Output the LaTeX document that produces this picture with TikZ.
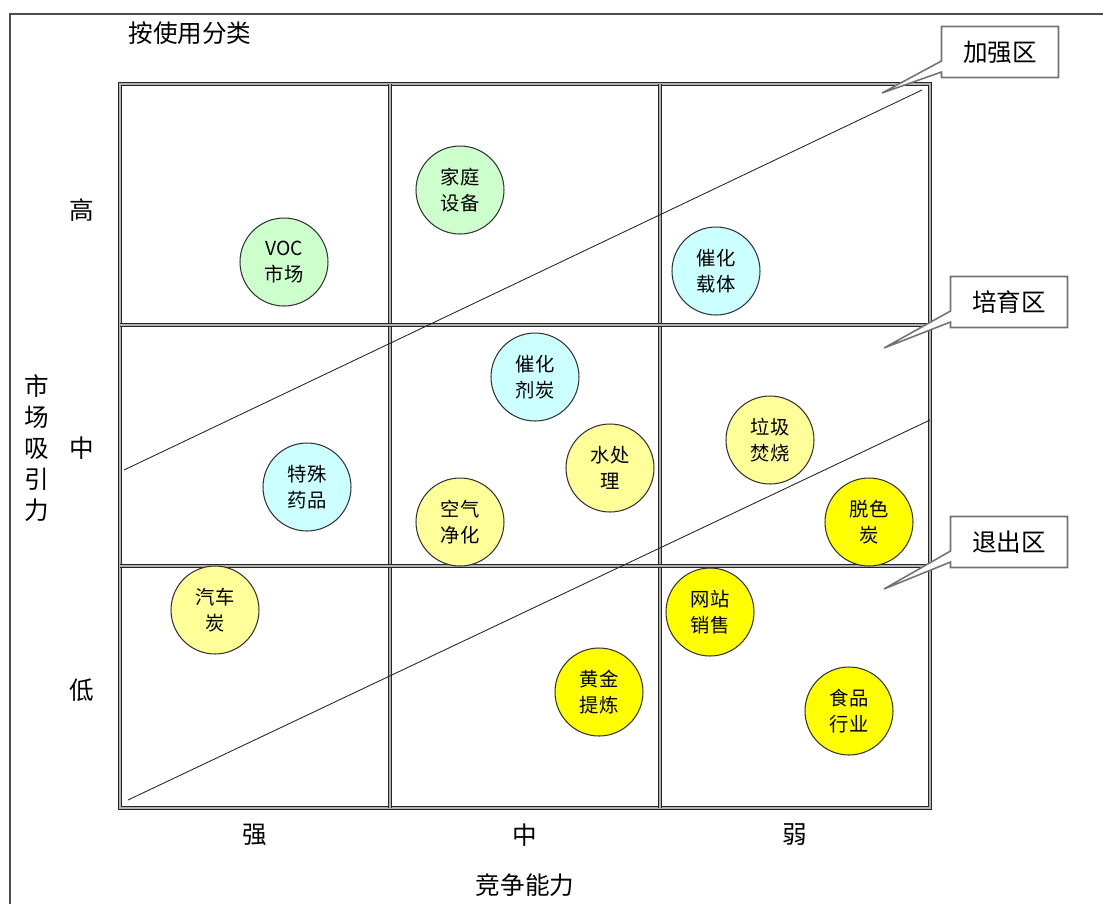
\documentclass[tikz,border=0pt]{standalone}
\usepackage{fontspec}
\setmainfont{Noto Sans CJK SC}
\usetikzlibrary{positioning,shapes.callouts}
\tikzset{>=stealth}
\definecolor{lgreen}{HTML}{CCFFCC}
\definecolor{lcyan}{HTML}{CCFFFF}
\definecolor{lyellow}{HTML}{FFFF99}
\definecolor{dyellow}{HTML}{FFFF00}

\begin{document}
\begin{tikzpicture}[x=0.02cm,y=-0.02cm,
    cell/.style={draw=black!85, double=black!30, double distance=1.1pt, line width=0.6pt},
    item/.style={circle, draw=black!80, line width=0.6pt, minimum size=1.76cm, inner sep=0pt,
      align=center, font=\fontsize{11}{15}\selectfont},
    axislabel/.style={font=\fontsize{14}{17.6}\selectfont, align=center},
    zone/.style={rectangle callout, draw=black!55, line width=0.9pt, fill=white,
      minimum width=2.34cm, minimum height=1.02cm, callout pointer width=0.22cm,
      font=\fontsize{14}{15}\selectfont}]
  \useasboundingbox (0,0) rectangle (1103,904);
  \draw[black!70, line width=0.8pt] (10,904) -- (10,14) -- (1103,14);

  % the 3x3 grid
  \draw[cell] (120,84) rectangle (930,808);
  \foreach \x in {390,660} \draw[cell] (\x,84) -- (\x,808);
  \foreach \y in {325,566} \draw[cell] (120,\y) -- (930,\y);

  % zone borders
  \draw[black!85, line width=0.5pt] (124,470) -- (922,90);
  \draw[black!85, line width=0.5pt] (128,800) -- (930,420);

  % axes
  \node[axislabel] (title) at (190,33) {按使用分类};
  \node[axislabel] (yhigh) at (82,210) {高};
  \node[axislabel] (ymid) at (82,448) {中};
  \node[axislabel] (ylow) at (82,690) {低};
  \node[axislabel] (yname) at (37,448) {市\\场\\吸\\引\\力};
  \node[axislabel] (xstrong) at (255,835) {强};
  \node[axislabel] (xmid) at (525,835) {中};
  \node[axislabel] (xweak) at (795,835) {弱};
  \node[axislabel] (xname) at (525,885) {竞争能力};

  % products
  \node[item, fill=lgreen] (voc) at (284,262) {VOC\\市场};
  \node[item, fill=lgreen] (home) at (460,190) {家庭\\设备};
  \node[item, fill=lcyan] (carrier) at (716,271) {催化\\载体};
  \node[item, fill=lcyan] (catalyst) at (535,377) {催化\\剂炭};
  \node[item, fill=lcyan] (drug) at (307,487) {特殊\\药品};
  \node[item, fill=lyellow] (water) at (610,468) {水处\\理};
  \node[item, fill=lyellow] (air) at (460,522) {空气\\净化};
  \node[item, fill=lyellow] (waste) at (770,440) {垃圾\\焚烧};
  \node[item, fill=dyellow] (decolor) at (869,522) {脱色\\炭};
  \node[item, fill=lyellow] (car) at (215,610) {汽车\\炭};
  \node[item, fill=dyellow] (web) at (710,612) {网站\\销售};
  \node[item, fill=dyellow] (gold) at (599,692) {黄金\\提炼};
  \node[item, fill=dyellow] (food) at (849,711) {食品\\行业};

  % zone callouts
  \coordinate (tipup) at (882,93);
  \coordinate (tipmid) at (884,348);
  \coordinate (tiplow) at (884,589);
  \node[zone, callout absolute pointer={(tipup)}] (strengthen) at (1000,52) {加强区};
  \node[zone, callout absolute pointer={(tipmid)}] (cultivate) at (1009,302) {培育区};
  \node[zone, callout absolute pointer={(tiplow)}] (quit) at (1009,542) {退出区};
\end{tikzpicture}
\end{document}
